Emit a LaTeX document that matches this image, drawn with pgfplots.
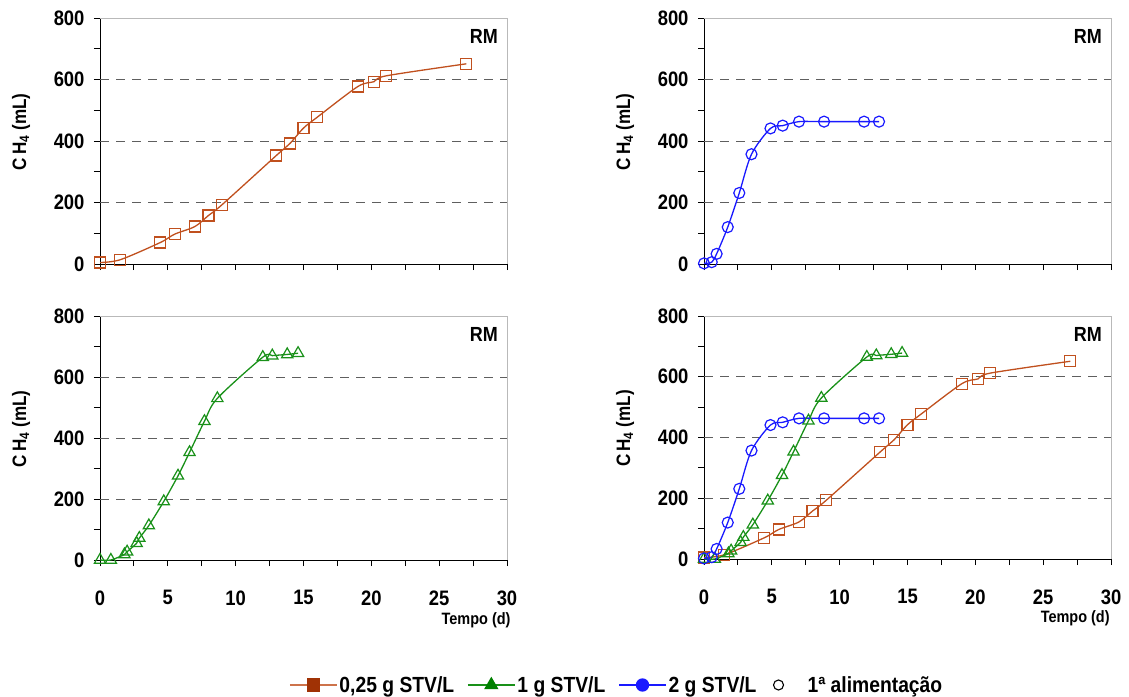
\documentclass[border=0pt]{standalone}
\usepackage{pgfplots}
\pgfplotsset{compat=1.18}
\usepackage{pgfplotstable}
\usepackage{fontspec}
\setmainfont{Liberation Sans}[FakeStretch=0.88]

\definecolor{cBrown}{RGB}{192,80,30}
\definecolor{cBrownF}{RGB}{160,50,5}
\definecolor{cGreen}{RGB}{25,145,25}
\definecolor{cGreenF}{RGB}{0,128,0}
\definecolor{cBlue}{RGB}{25,25,255}
\definecolor{gridgray}{RGB}{95,95,95}

% Cumulative CH4 (mL) versus time (d), first feeding
\pgfplotstableread{
t    ch4
0    5
1.5  14
4.45 70
5.5  97
7    122
8    158
9    193
13   353
14   392
15   442
16   477
19   577
20.2 593
21.1 612
27   651
}\lowload

\pgfplotstableread{
t    ch4
0    0
0.8  0
1.8  18
2.0  27
2.7  55
2.9  72
3.6  113
4.7  192
5.75 276
6.6  353
7.7  455
8.65 530
12.0 665
12.7 670
13.8 674
14.6 678
}\midload

\pgfplotstableread{
t    ch4
0    2
0.57 6
0.93 33
1.75 120
2.6  231
3.5  357
4.9  441
5.8  450
7    463
8.85 463
11.8 463
12.9 463
}\highload

\newcommand{\tickfont}{\fontsize{21}{21}\selectfont\bfseries}

\pgfplotsset{
  panel/.style={
    scale only axis, width=407bp,
    xmin=0, xmax=30, ymin=0, ymax=800,
    axis lines=left,
    axis line style={-, black, line width=1bp},
    xtick={0,5,...,30}, ytick={0,200,...,800},
    minor x tick num=1, minor y tick num=1,
    tick align=outside,
    major tick length=6bp, minor tick length=6bp,
    every tick/.style={black, line width=0.9bp},
    extra y ticks={200,400,600}, extra y tick labels={},
    extra y tick style={grid=major, every tick/.style={draw=none}},
    major grid style={gridgray, line width=1bp, dash pattern=on 9bp off 7bp},
    every tick label/.append style={font=\tickfont},
    /pgf/number format/assume math mode=true,
    ylabel={C\,H\textsubscript{4} (mL)},
    every axis y label/.style={at={(axis description cs:-0.194,0.537)},
      anchor=center, rotate=90, font=\fontsize{19.5}{19.5}\selectfont\bfseries},
    every axis x label/.style={anchor=center,
      font=\fontsize{16.5}{16.5}\selectfont\bfseries},
    yticklabel style={xshift=-6bp},
    xticklabel style={yshift=-21bp},
    clip=false,
    after end axis/.code={
      \draw[gray!55, line width=1bp] (rel axis cs:0,1) -- (rel axis cs:1,1) -- (rel axis cs:1,0);
      \node[anchor=north east, inner sep=0pt, font=\fontsize{20.5}{20.5}\selectfont\bfseries]
        at (rel axis cs:0.978,0.955) {RM};
    },
  },
  lowS/.style={cBrown, line width=1.3bp, smooth, tension=0.5, mark=square,
    mark size=5.5bp, mark options={solid, fill=white, line width=1.2bp}},
  midS/.style={cGreen, line width=1.3bp, smooth, tension=0.5, mark=triangle,
    mark size=6.5bp, mark options={solid, fill=white, line width=1.2bp}},
  highS/.style={cBlue, line width=1.3bp, smooth, tension=0.5, mark=o,
    mark size=5.5bp, mark options={solid, fill=white, line width=1.2bp}},
}

\begin{document}
\begin{tikzpicture}
\useasboundingbox (0,0) rectangle (1129bp,-697bp);

% top left: 0,25 g STV/L
\begin{axis}[panel, height=246bp, at={(100bp,-264bp)}, anchor=south west,
  xticklabels={}]
  \addplot[lowS] table[x=t, y=ch4] {\lowload};
\end{axis}

% top right: 2 g STV/L
\begin{axis}[panel, height=246bp, at={(704bp,-264bp)}, anchor=south west,
  xticklabels={}]
  \addplot[highS] table[x=t, y=ch4] {\highload};
\end{axis}

% bottom left: 1 g STV/L
\begin{axis}[panel, height=244bp, at={(100bp,-560bp)}, anchor=south west,
  xlabel={Tempo (d)}, xlabel style={at={(axis description cs:0.924,-0.246)}}]
  \addplot[midS] table[x=t, y=ch4] {\midload};
\end{axis}

% bottom right: all loads together, with the shared legend
\begin{axis}[panel, height=243bp, at={(704bp,-559bp)}, anchor=south west,
  xlabel={Tempo (d)}, xlabel style={at={(axis description cs:0.912,-0.243)}},
  legend columns=4,
  legend style={at={(axis description cs:-1.0197,-0.5185)}, anchor=west,
    draw=none, fill=none, inner sep=0pt,
    font=\fontsize{22}{22}\selectfont\bfseries,
    nodes={inner sep=2bp},
    /tikz/every even column/.append style={column sep=11bp}},
  legend image code/.code={%
    \draw[mark repeat=2, mark phase=2, #1] plot coordinates {(0bp,0bp) (23.5bp,0bp) (47bp,0bp)};},
  ]
  \addplot[lowS, forget plot] table[x=t, y=ch4] {\lowload};
  \addplot[midS, forget plot] table[x=t, y=ch4] {\midload};
  \addplot[highS, forget plot] table[x=t, y=ch4] {\highload};

  \addlegendimage{cBrown!80, line width=1.3bp, mark=square*, mark size=6bp,
    mark options={solid, draw=cBrownF, fill=cBrownF}}
  \addlegendentry{0,25 g STV/L}
  \addlegendimage{cGreen, line width=1.3bp, mark=triangle*, mark size=7bp,
    mark options={solid, draw=cGreenF, fill=cGreenF}}
  \addlegendentry{1 g STV/L}
  \addlegendimage{cBlue, line width=1.3bp, mark=*, mark size=6bp,
    mark options={solid, draw=cBlue, fill=cBlue}}
  \addlegendentry{2 g STV/L}
  \addlegendimage{legend image code/.code={%
      \path[draw=none] (0bp,0bp) -- (36bp,0bp);
      \draw[black, line width=1.1bp, fill=white] (9bp,0bp) circle (5bp);}}
  \addlegendentry{1ª alimentação}
\end{axis}
\end{tikzpicture}
\end{document}
